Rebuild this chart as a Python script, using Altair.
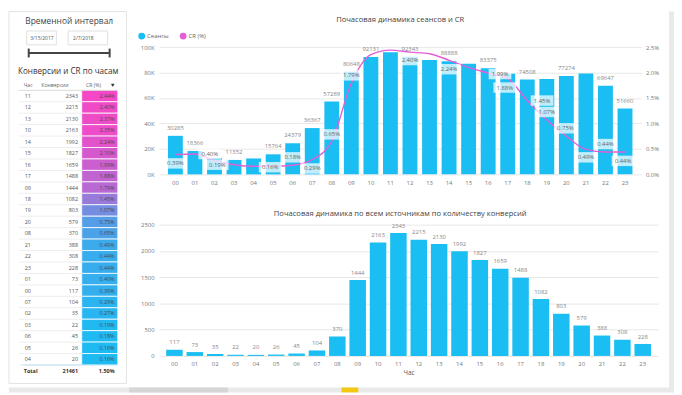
import altair as alt
import pandas as pd

# ---------------- data ----------------
HOURS = ["00", "01", "02", "03", "04", "05", "06", "07", "08", "09", "10", "11",
         "12", "13", "14", "15", "16", "17", "18", "19", "20", "21", "22", "23"]
SESSIONS = [30285, 18366, 12960, 11352, 12500, 15764, 24379, 36367, 57289, 80648, 92131, 96000,
            92343, 89900, 88888, 87000, 83375, 79100, 74508, 75000, 77274, 79200, 69647, 51660]
CONVERSIONS = [117, 73, 35, 22, 20, 26, 45, 104, 370, 1444, 2163, 2343,
               2215, 2130, 1992, 1827, 1659, 1488, 1082, 803, 579, 388, 308, 228]
CR_PCT = [0.39, 0.40, 0.27, 0.19, 0.16, 0.16, 0.18, 0.29, 0.65, 1.79, 2.35, 2.44,
          2.40, 2.37, 2.24, 2.10, 1.99, 1.88, 1.45, 1.07, 0.75, 0.49, 0.44, 0.44]
TABLE_ORDER = ["11", "12", "13", "10", "14", "15", "16", "17", "09", "18", "19", "20",
               "08", "21", "22", "23", "01", "00", "07", "02", "03", "06", "05", "04"]
TOTAL_CONVERSIONS = 21461
TOTAL_CR = "1.50%"
DATE_FROM = "3/15/2017"
DATE_TO = "2/7/2018"
SESSION_LABEL_HOURS = ["00", "01", "03", "05", "06", "07", "08", "09", "10", "12",
                       "14", "16", "18", "20", "22", "23"]
SERIES = ["Сеансы", "CR (%)"]
TABLE_HEADERS = ["Час", "Конверсии", "CR (%)"]
TITLE_FILTER = "Временной интервал"
TITLE_TABLE = "Конверсии и CR по часам"
TITLE_TOP = "Почасовая динамика сеансов и CR"
TITLE_BOTTOM = "Почасовая динамика по всем источникам по количеству конверсий"
X_TITLE = "Час"
SESSION_TICKS = [0, 20000, 40000, 60000, 80000, 100000]
CR_TICKS = [0, 0.5, 1.0, 1.5, 2.0, 2.5]
CONV_TICKS = [0, 500, 1000, 1500, 2000, 2500]

# ---------------- style ----------------
FONT = "Open Sans"
CYAN = "#1ABEF2"
PINK = "#E35FD5"
CR_LOW = "#1EBBF3"
CR_HIGH = "#F548C6"
GRID = "#E8E8E8"
AXIS_LABEL = "#777777"
TXT = "#555555"
PAGE_GRAY = "#E9E9E9"
BOX = "M-1,-0.46H1V0.46H-1Z"
# label placement (pixel offsets) for CR line labels, per hour
CR_LABEL_OFFSETS = {"00": (0, 9), "01": (15, 0), "03": (-17, 0), "05": (-3, 1), "06": (0, -8),
                    "07": (0, 9), "08": (0, -7), "09": (0, -8), "12": (0, 8), "14": (0, 9),
                    "16": (12, 1), "17": (-3, 9), "18": (15, 0), "19": (0, -8), "20": (-1, -8),
                    "21": (0, 8), "22": (0, -8), "23": (-2, 9)}

df = pd.DataFrame({"hour": HOURS, "sessions": SESSIONS, "conv": CONVERSIONS, "cr": CR_PCT})
df["cr_label"] = [f"{v:.2f}%" for v in CR_PCT]

tbl = df.set_index("hour").loc[TABLE_ORDER].reset_index().rename(columns={"hour": "row"})
one = pd.DataFrame({"k": [0]})

# ---------------- left panel ----------------
ROW_DOMAIN = ["hdr"] + TABLE_ORDER + ["Total"]
row_scale = alt.Scale(domain=ROW_DOMAIN, range=[32.2, 333.8], paddingInner=0, paddingOuter=0)
y_row = alt.Y("row:N", scale=row_scale, axis=None)


def deco_text(text, x, y, size, align="center", color="#444444", weight="normal"):
    return alt.Chart(one).mark_text(text=text, align=align, baseline="middle", fontSize=size,
                                    color=color, fontWeight=weight).encode(
        x=alt.value(x), y=alt.value(y))


def deco_rect(x, x2, y, y2, fill="white", stroke="#D9D9D9", sw=1):
    return alt.Chart(one).mark_rect(fill=fill, stroke=stroke, strokeWidth=sw).encode(
        x=alt.value(x), x2=alt.value(x2), y=alt.value(y), y2=alt.value(y2))


def deco_rule(x, x2, y, y2, color="#444444", sw=2):
    return alt.Chart(one).mark_rule(color=color, strokeWidth=sw).encode(
        x=alt.value(x), x2=alt.value(x2), y=alt.value(y), y2=alt.value(y2))


hdr_df = pd.DataFrame({"row": ["hdr"]})
total_df = pd.DataFrame({"row": ["Total"], "conv": [TOTAL_CONVERSIONS], "cr_label": [TOTAL_CR]})

# page frame strips (right scrollbar area and bottom page-tab bar)
strip_right = deco_rect(669, 674, -36, 350, fill=PAGE_GRAY, stroke=PAGE_GRAY, sw=0)
strip_bottom = deco_rect(0, 674, 345, 350, fill=PAGE_GRAY, stroke=PAGE_GRAY, sw=0)
strip_dark = deco_rect(122, 222, 345, 350, fill="#D6D6D6", stroke="#D6D6D6", sw=0)
strip_tab = deco_rect(337, 354, 345, 350, fill="#F2C811", stroke="#F2C811", sw=0)

panel = deco_rect(0, 119, -36, 341, stroke="#E3E3E3")
filter_title = deco_text(TITLE_FILTER, 61, -26, 8.5)
box1 = deco_rect(18, 48, -16.3, -2.3, stroke="#E0E0E0")
box2 = deco_rect(60, 100, -16.3, -2.3, stroke="#E0E0E0")
date1 = deco_text(DATE_FROM, 21.5, -9.3, 5.0, align="left", color="#555555")
date2 = deco_text(DATE_TO, 65, -9.3, 5.0, align="left", color="#555555")
slider = deco_rule(20, 102, 6, 6)
cap1 = deco_rule(20, 20, 1.5, 10.5)
cap2 = deco_rule(102, 102, 1.5, 10.5)
table_title = deco_text(TITLE_TABLE, 60, 25, 8.2, color="#333333")

cr_cells = alt.Chart(tbl).mark_rect(stroke="white", strokeWidth=0.8).encode(
    x=alt.value(73.7), x2=alt.value(110.3), y=y_row,
    color=alt.Color("cr:Q", scale=alt.Scale(domain=[0.16, 2.44], range=[CR_LOW, CR_HIGH],
                                            interpolate="rgb"), legend=None))
row_rules = alt.Chart(tbl).mark_rule(color="#E8E8E8", strokeWidth=0.8).encode(
    x=alt.value(10), x2=alt.value(74), y=alt.Y("row:N", bandPosition=1, scale=row_scale, axis=None))
hdr_rule = alt.Chart(hdr_df).mark_rule(color="#CFCFCF", strokeWidth=0.8).encode(
    x=alt.value(10), x2=alt.value(110), y=alt.Y("row:N", bandPosition=1, scale=row_scale, axis=None))
total_rule = alt.Chart(total_df).mark_rule(color="#A8DDF3", strokeWidth=0.8).encode(
    x=alt.value(14), x2=alt.value(110), y=alt.Y("row:N", bandPosition=0, scale=row_scale, axis=None))

hour_txt = alt.Chart(tbl).mark_text(align="left", fontSize=5.5, color=TXT).encode(
    x=alt.value(16), y=y_row, text="row:N")
conv_txt = alt.Chart(tbl).mark_text(align="right", fontSize=5.5, color=TXT).encode(
    x=alt.value(70), y=y_row, text=alt.Text("conv:Q", format="d"))
cr_txt = alt.Chart(tbl).mark_text(align="right", fontSize=5.5, color="#4A4A4A").encode(
    x=alt.value(107), y=y_row, text="cr_label:N")

hdr_layers = []
for text, xpos in zip(TABLE_HEADERS, [15, 32.7, 78]):
    hdr_layers.append(alt.Chart(hdr_df).mark_text(text=text, align="left", fontSize=5.2,
                                                  color="#666666").encode(x=alt.value(xpos), y=y_row))
hdr_layers.append(alt.Chart(hdr_df).mark_text(text="▼", align="center", fontSize=6,
                                              color="#333333").encode(x=alt.value(105), y=y_row))

tot_label = alt.Chart(total_df).mark_text(text="Total", align="left", fontSize=5.5,
                                          fontWeight="bold", color="#333333").encode(
    x=alt.value(15), y=y_row)
tot_conv = alt.Chart(total_df).mark_text(align="right", fontSize=5.5, fontWeight="bold",
                                         color="#333333").encode(
    x=alt.value(70), y=y_row, text=alt.Text("conv:Q", format="d"))
tot_cr = alt.Chart(total_df).mark_text(align="right", fontSize=5.5, fontWeight="bold",
                                       color="#333333").encode(
    x=alt.value(107), y=y_row, text="cr_label:N")

left = alt.layer(strip_right, strip_bottom, strip_dark, strip_tab,
                 panel, filter_title, box1, box2, date1, date2, slider, cap1, cap2, table_title,
                 cr_cells, row_rules, hdr_rule, total_rule, hour_txt, conv_txt, cr_txt,
                 *hdr_layers, tot_label, tot_conv, tot_cr).properties(width=119, height=341)

# ---------------- top chart ----------------
base_top = alt.Chart(df)
x_top = alt.X("hour:N", sort=HOURS, title=None,
              scale=alt.Scale(paddingInner=0.24, paddingOuter=0.46),
              axis=alt.Axis(labelAngle=0, domain=False, ticks=False, labelPadding=5,
                            labelFontSize=6, labelColor=AXIS_LABEL))
y_sess = alt.Y("sessions:Q", title=None, scale=alt.Scale(domain=[0, 100000]),
               axis=alt.Axis(values=SESSION_TICKS, labelExpr="datum.value / 1000 + 'K'",
                             domain=False, ticks=False, labelPadding=5, gridColor=GRID,
                             labelFontSize=6, labelColor=AXIS_LABEL))
y_sess_hidden = alt.Y("sessions:Q", scale=alt.Scale(domain=[0, 100000]), axis=None)
y_cr = alt.Y("cr:Q", title=None, scale=alt.Scale(domain=[0, 2.5]),
             axis=alt.Axis(orient="right", values=CR_TICKS,
                           labelExpr="format(datum.value, '.1f') + '%'", grid=False,
                           domain=False, ticks=False, labelPadding=4, labelFontSize=6,
                           labelColor=AXIS_LABEL))
y_cr_hidden = alt.Y("cr:Q", scale=alt.Scale(domain=[0, 2.5]), axis=None)
color_scale = alt.Scale(domain=SERIES, range=[CYAN, PINK])

bars_top = base_top.transform_calculate(series=f"'{SERIES[0]}'").mark_bar().encode(
    x=x_top, y=y_sess,
    color=alt.Color("series:N", scale=color_scale,
                    legend=alt.Legend(title=None, orient="none", legendX=-21, legendY=-15,
                                      direction="horizontal", symbolType="circle",
                                      symbolSize=30, labelFontSize=6, labelColor="#666666",
                                      columnPadding=8, labelOffset=2)))
bar_lbl_top = base_top.transform_filter(
    alt.FieldOneOfPredicate(field="hour", oneOf=SESSION_LABEL_HOURS)
).mark_text(fontSize=6, color="#888888", dy=-8).encode(
    x=x_top, y=y_sess_hidden, text=alt.Text("sessions:Q", format="d"))
line_top = base_top.transform_calculate(series=f"'{SERIES[1]}'").mark_line(
    interpolate="monotone", strokeWidth=1.4).encode(
    x=x_top, y=y_cr, color=alt.Color("series:N", scale=color_scale, legend=None))

groups = {}
for h, off in CR_LABEL_OFFSETS.items():
    groups.setdefault(off, []).append(h)
label_layers = []
for (dx, dy), hrs in groups.items():
    sub = base_top.transform_filter(alt.FieldOneOfPredicate(field="hour", oneOf=hrs))
    label_layers.append(sub.mark_point(shape=BOX, filled=True, color="white", opacity=0.72,
                                       size=530, strokeWidth=0, xOffset=dx, yOffset=dy).encode(
        x=x_top, y=y_cr_hidden))
    label_layers.append(sub.mark_text(fontSize=6, color="#666666", xOffset=dx, yOffset=dy).encode(
        x=x_top, y=y_cr_hidden, text="cr_label:N"))

top = alt.layer(bars_top, bar_lbl_top, line_top, *label_layers).resolve_scale(
    y="independent").properties(
    width=489, height=129,
    title=alt.Title(TITLE_TOP, fontSize=7.7, fontWeight="normal", color="#444444",
                    anchor="middle", offset=21))

# ---------------- bottom chart ----------------
base_bot = alt.Chart(df)
x_bot = alt.X("hour:N", sort=HOURS, scale=alt.Scale(paddingInner=0.19, paddingOuter=0.355),
              axis=alt.Axis(title=X_TITLE, labelAngle=0, domain=False, ticks=False,
                            labelPadding=5, labelFontSize=6, labelColor=AXIS_LABEL,
                            titleFontSize=6.5, titleColor="#555555", titleFontWeight="normal",
                            titlePadding=3))
y_bot = alt.Y("conv:Q", title=None, scale=alt.Scale(domain=[0, 2500]),
              axis=alt.Axis(values=CONV_TICKS, format="d", domain=False, ticks=False,
                            labelPadding=5, gridColor=GRID, labelFontSize=6,
                            labelColor=AXIS_LABEL))
bars_bot = base_bot.mark_bar(color=CYAN).encode(x=x_bot, y=y_bot)
lbl_bot = base_bot.mark_text(fontSize=6, color="#888888", dy=-7.5).encode(
    x=x_bot, y=y_bot, text=alt.Text("conv:Q", format="d"))

bottom = alt.layer(bars_bot, lbl_bot).properties(
    width=506, height=133,
    title=alt.Title(TITLE_BOTTOM, fontSize=7.7, fontWeight="normal", color="#444444",
                    anchor="middle", offset=4, dx=-8.5))

right = alt.vconcat(top, bottom, spacing=51, bounds="flush")

chart = alt.hconcat(left, right, spacing=33, bounds="flush", padding=0).configure(
    font=FONT).configure_view(stroke=None)

chart.save("out.html", embed_options={"renderer": "svg", "actions": False})
